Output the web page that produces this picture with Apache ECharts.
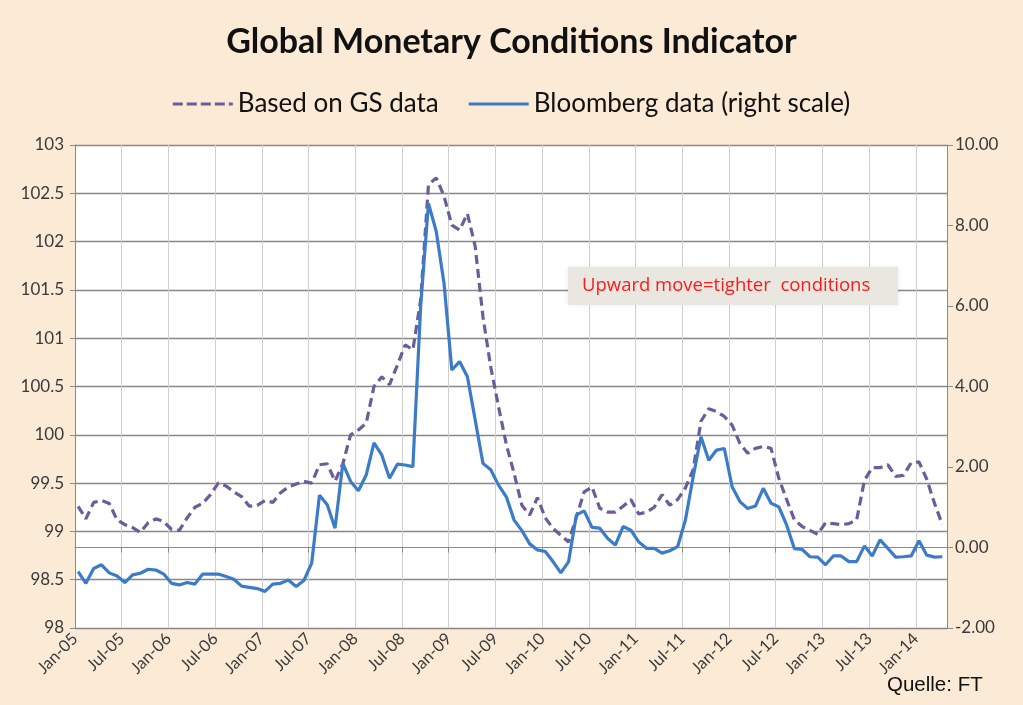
<!DOCTYPE html>
<html>
<head>
<meta charset="utf-8">
<script src="https://cdn.jsdelivr.net/npm/echarts@6/dist/echarts.min.js"></script>
<style>
  html, body { margin: 0; padding: 0; background: #fbead6; }
  #chart { width: 1023px; height: 705px; }
</style>
</head>
<body>
<div id="chart"></div>
<script>
// Half-year tick labels (x axis measured in months since Jan-05)
const tickLabels = ['Jan-05','Jul-05','Jan-06','Jul-06','Jan-07','Jul-07','Jan-08','Jul-08','Jan-09','Jul-09',
                    'Jan-10','Jul-10','Jan-11','Jul-11','Jan-12','Jul-12','Jan-13','Jul-13','Jan-14'];

// Monthly observations Jan-05 .. Apr-14 (observation taken in the first half of each month)
const obsOffset = 0.4;

// Based on GS data (left scale)
const gsData = [
  99.26, 99.13, 99.30, 99.32, 99.29, 99.12, 99.07, 99.04, 98.99, 99.09, 99.13, 99.10,
  99.02, 99.01, 99.14, 99.25, 99.29, 99.38, 99.50, 99.47, 99.41, 99.36, 99.26, 99.27,
  99.32, 99.30, 99.40, 99.46, 99.49, 99.52, 99.50, 99.69, 99.70, 99.52, 99.70, 100.00,
  100.05, 100.12, 100.50, 100.60, 100.52, 100.72, 100.93, 100.88, 101.40, 102.59, 102.66, 102.47,
  102.17, 102.12, 102.29, 101.95, 101.22, 100.70, 100.29, 99.90, 99.60, 99.27, 99.17, 99.35,
  99.14, 99.03, 98.96, 98.89, 99.15, 99.41, 99.46, 99.24, 99.20, 99.20, 99.26, 99.33,
  99.18, 99.20, 99.25, 99.38, 99.27, 99.33, 99.45, 99.64, 100.14, 100.27, 100.24, 100.19,
  100.10, 99.91, 99.81, 99.86, 99.88, 99.86, 99.55, 99.33, 99.12, 99.05, 99.01, 98.97,
  99.09, 99.08, 99.07, 99.08, 99.12, 99.53, 99.66, 99.66, 99.69, 99.57, 99.58, 99.71,
  99.72, 99.54, 99.29, 99.07
];

// Bloomberg data (right scale)
const bbgData = [
  -0.60, -0.89, -0.52, -0.43, -0.63, -0.71, -0.87, -0.68, -0.64, -0.54, -0.56, -0.66,
  -0.89, -0.93, -0.87, -0.91, -0.66, -0.66, -0.66, -0.72, -0.79, -0.96, -0.99, -1.02,
  -1.09, -0.91, -0.89, -0.81, -0.97, -0.82, -0.39, 1.30, 1.06, 0.48, 2.09, 1.64,
  1.41, 1.80, 2.60, 2.30, 1.72, 2.07, 2.05, 2.01, 6.00, 8.55, 7.85, 6.56,
  4.41, 4.62, 4.24, 3.17, 2.09, 1.93, 1.55, 1.26, 0.68, 0.42, 0.09, -0.06,
  -0.10, -0.35, -0.63, -0.35, 0.81, 0.91, 0.50, 0.48, 0.23, 0.06, 0.52, 0.43,
  0.14, -0.02, -0.02, -0.14, -0.08, 0.02, 0.68, 1.76, 2.75, 2.17, 2.42, 2.46,
  1.51, 1.14, 0.97, 1.03, 1.47, 1.10, 1.01, 0.56, -0.03, -0.05, -0.23, -0.24,
  -0.43, -0.21, -0.21, -0.35, -0.35, 0.04, -0.21, 0.19, -0.02, -0.24, -0.23, -0.21,
  0.17, -0.19, -0.24, -0.23
];

const seriesNames = ['Based on GS data', 'Bloomberg data (right scale)'];
const titleText = 'Global Monetary Conditions Indicator';
const noteText = 'Upward move=tighter  conditions';
const sourceText = 'Quelle: FT';

const gsColor = '#6d5c9a';
const bbgColor = '#3b7bc8';

const chart = echarts.init(document.getElementById('chart'));
const axisFont = { fontFamily: 'Lato', fontSize: 17, color: '#3a3a3a' };

chart.setOption({
  backgroundColor: '#fbead6',
  animation: false,
  title: {
    text: titleText, left: 'center', top: 20,
    textStyle: { fontFamily: 'Lato', fontWeight: 'bold', fontSize: 34, color: '#111' }
  },
  legend: {
    top: 86, left: 'center', itemWidth: 60, itemHeight: 3, itemGap: 30,
    textStyle: { fontFamily: 'Lato', fontSize: 26, color: '#111' },
    data: [
      { name: seriesNames[0], icon: 'path://M0,0h10v3h-10z M14,0h10v3h-10z M28,0h10v3h-10z M42,0h10v3h-10z M56,0h4v3h-4z' },
      { name: seriesNames[1], icon: 'rect' }
    ]
  },
  grid: { left: 75, right: 76, top: 145, bottom: 77, show: true, backgroundColor: '#ffffff', borderWidth: 0 },
  xAxis: {
    type: 'value', min: 0, max: 112, interval: 6,
    axisLine: { show: true, lineStyle: { color: '#8a8a8a', width: 1 } },
    axisTick: { show: true, length: 5, lineStyle: { color: '#8a8a8a' } },
    splitLine: { show: true, lineStyle: { color: '#cfcfcf', width: 1 } },
    axisLabel: Object.assign({}, axisFont, {
      rotate: 45, fontSize: 16.5, margin: 8, showMaxLabel: false,
      formatter: v => tickLabels[Math.round(v / 6)] || ''
    })
  },
  yAxis: [
    {
      type: 'value', min: 98, max: 103, interval: 0.5,
      axisLine: { show: true, lineStyle: { color: '#8a8a8a' } },
      axisTick: { show: true, length: 5, lineStyle: { color: '#8a8a8a' } },
      splitLine: { show: true, lineStyle: { color: '#888888', width: 1.3 } },
      axisLabel: Object.assign({}, axisFont, { margin: 11 })
    },
    {
      type: 'value', min: -2, max: 10, interval: 2, position: 'right',
      axisLine: { show: true, lineStyle: { color: '#8a8a8a' } },
      axisTick: { show: true, length: 6, lineStyle: { color: '#8a8a8a' } },
      splitLine: { show: false },
      axisLabel: Object.assign({}, axisFont, { margin: 8, formatter: v => v.toFixed(2) })
    }
  ],
  series: [
    {
      name: seriesNames[0], type: 'line', yAxisIndex: 0, symbol: 'none',
      data: gsData.map((v, i) => [i + obsOffset, v]),
      lineStyle: { color: gsColor, width: 3.2, type: [9, 5] },
      itemStyle: { color: gsColor }, z: 3
    },
    {
      name: seriesNames[1], type: 'line', yAxisIndex: 1, symbol: 'none',
      data: bbgData.map((v, i) => [i + obsOffset, v]),
      lineStyle: { color: bbgColor, width: 3.2 },
      itemStyle: { color: bbgColor }, z: 4
    }
  ],
  graphic: [
    {
      type: 'group', left: 568, top: 267, z: 100,
      children: [
        { type: 'rect', z: 100, shape: { x: 0, y: 0, width: 330, height: 38 },
          style: { fill: '#e9e7e0', shadowBlur: 6, shadowColor: 'rgba(0,0,0,0.08)' } },
        { type: 'text', z: 101, x: 14, y: 19,
          style: { text: noteText, fill: '#ff1a1a', font: '18.5px "Open Sans"', verticalAlign: 'middle' } }
      ]
    },
    {
      type: 'text', left: 887, top: 675, z: 100,
      style: { text: sourceText, fill: '#111', font: '20.5px "Liberation Sans"' }
    }
  ]
});
</script>
</body>
</html>
